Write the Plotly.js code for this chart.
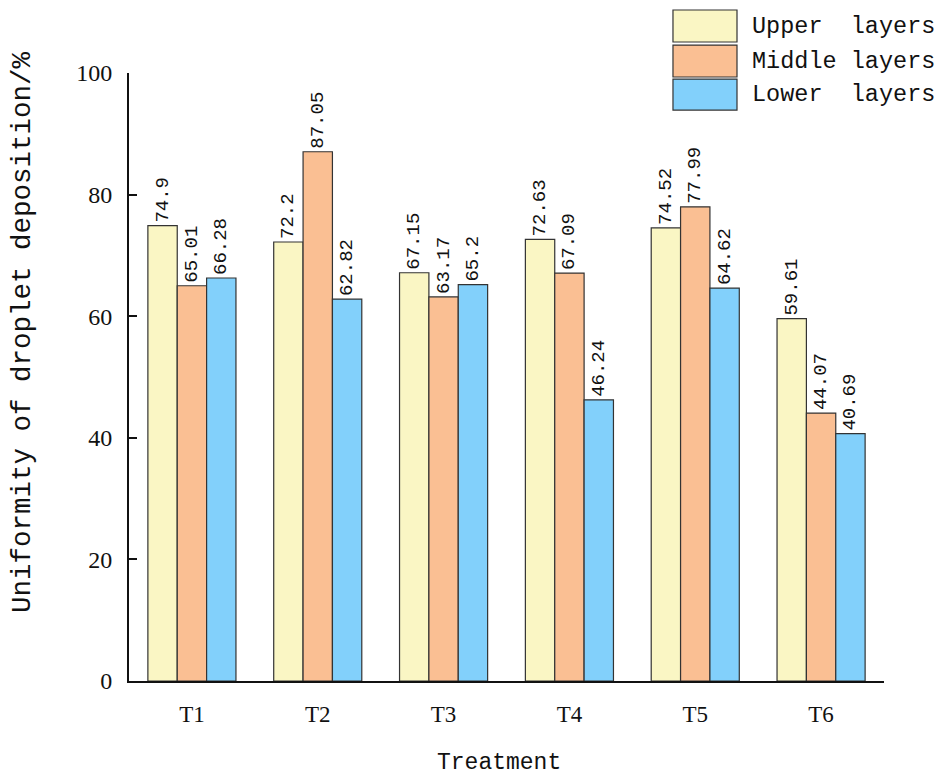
<!DOCTYPE html>
<html>
<head>
<meta charset="utf-8">
<script src="https://cdn.plot.ly/plotly-3.0.1.min.js"></script>
<style>
  html, body { margin: 0; padding: 0; background: #fff; }
  #chart { width: 945px; height: 784px; }
</style>
</head>
<body>
<div id="chart"></div>
<script>
// values
var treatments = ["T1", "T2", "T3", "T4", "T5", "T6"];
var upperLayers = [74.9, 72.2, 67.15, 72.63, 74.52, 59.61];
var middleLayers = [65.01, 87.05, 63.17, 67.09, 77.99, 44.07];
var lowerLayers = [66.28, 62.82, 65.2, 46.24, 64.62, 40.69];
var seriesNames = ["Upper\u00a0\u00a0layers", "Middle layers", "Lower\u00a0\u00a0layers"];
var seriesColors = ["#faf6c4", "#fabf93", "#82d0fb"];
var yTicks = [0, 20, 40, 60, 80, 100];

var monoFont = "Liberation Mono, DejaVu Sans Mono, monospace";
var serifFont = "Liberation Serif, DejaVu Serif, serif";

function makeBar(values, i){
    var labelFont = {family: monoFont, size: 19, color: "#111"};
    return {
        type: "bar",
        x: treatments,
        y: values,
        name: seriesNames[i],
        marker: {color: seriesColors[i], line: {color: "#333", width: 1.2}},
        text: values.map(function(v){ return String(v); }),
        textposition: "outside",
        textangle: -90,
        constraintext: "none",
        cliponaxis: false,
        textfont: labelFont,
        outsidetextfont: labelFont,
        showlegend: false,
        hoverinfo: "x+y"
    };
}

var data = [upperLayers, middleLayers, lowerLayers].map(makeBar);

// hand drawn legend with big swatches, like the original
var shapes = [];
var annotations = [];
var rowTop = [1.1036, 1.046, 0.990];
var rowBottom = [1.051, 0.9934, 0.939];
for (var i = 0; i < seriesNames.length; i++) {
    shapes.push({
        type: "rect", xref: "paper", yref: "paper",
        x0: 0.7205, x1: 0.8053, y0: rowBottom[i], y1: rowTop[i],
        fillcolor: seriesColors[i], line: {color: "#333", width: 1.2}
    });
    annotations.push({
        xref: "paper", yref: "paper", x: 0.8225, y: (rowTop[i] + rowBottom[i]) / 2,
        xanchor: "left", yanchor: "middle", showarrow: false,
        text: seriesNames[i],
        font: {family: monoFont, size: 23.5, color: "#111"}
    });
}
annotations.push({
    xref: "paper", yref: "paper", x: -0.1417, y: 0.574,
    xanchor: "center", yanchor: "middle", showarrow: false, textangle: -90,
    text: "Uniformity of droplet deposition/%",
    font: {family: monoFont, size: 27.5, color: "#111"}
});
annotations.push({
    xref: "paper", yref: "paper", x: 0.49, y: -0.135,
    xanchor: "center", yanchor: "middle", showarrow: false,
    text: "Treatment",
    font: {family: monoFont, size: 23, color: "#111"}
});

var layout = {
    width: 945,
    height: 784,
    margin: {l: 129, r: 61, t: 73, b: 103},
    paper_bgcolor: "#fff",
    plot_bgcolor: "#fff",
    barmode: "group",
    bargap: 0.3,
    bargroupgap: 0,
    showlegend: false,
    xaxis: {
        showline: true, linecolor: "#111", linewidth: 2,
        ticks: "", showgrid: false, zeroline: false,
        ticklabelstandoff: 11,
        tickfont: {family: serifFont, size: 23, color: "#111"}
    },
    yaxis: {
        range: [0, 100],
        tickvals: yTicks,
        showline: true, linecolor: "#111", linewidth: 2,
        ticks: "inside", ticklen: 8, tickwidth: 2, tickcolor: "#111",
        showgrid: false, zeroline: false,
        ticklabelstandoff: 10,
        tickfont: {family: serifFont, size: 24, color: "#111"}
    },
    shapes: shapes,
    annotations: annotations
};

Plotly.newPlot("chart", data, layout, {displayModeBar: false, staticPlot: true});
</script>
</body>
</html>
